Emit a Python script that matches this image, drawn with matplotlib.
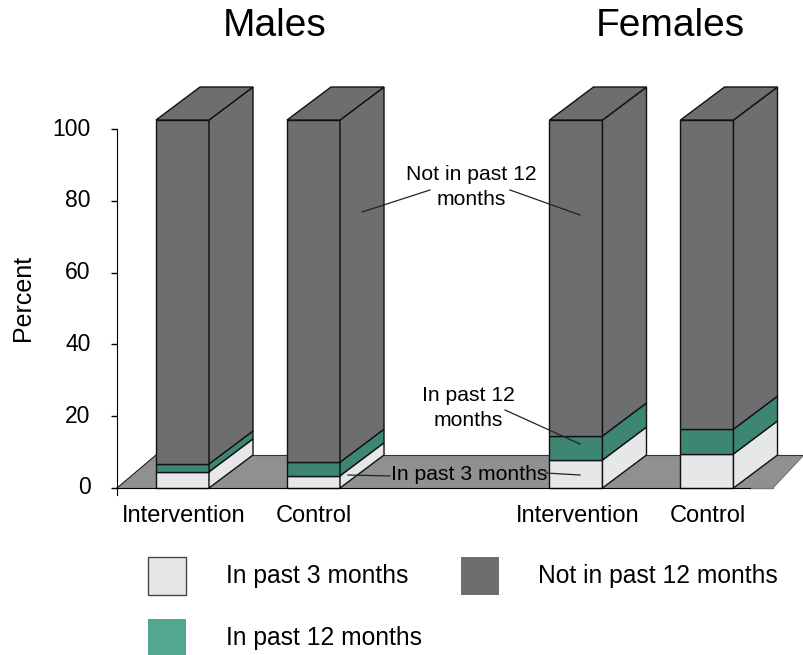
import matplotlib
matplotlib.use("Agg")
from matplotlib import pyplot as plt
from matplotlib.patches import Polygon, Rectangle

plt.rcParams["font.family"] = ["Liberation Sans", "DejaVu Sans"]

groups = ["Intervention", "Control", "Intervention", "Control"]
series = ["In past 3 months", "In past 12 months", "Not in past 12 months"]
past_3 = [4.5, 3.4, 7.8, 9.5]
past_12 = [2.2, 3.8, 6.7, 6.9]
not_past = [95.8, 95.3, 88.0, 86.1]
yticks = [0, 20, 40, 60, 80, 100]

front = {"In past 3 months": "#e6e7e8", "In past 12 months": "#3d8673", "Not in past 12 months": "#6d6e70"}
legend_col = {"In past 3 months": "#e6e7e8", "In past 12 months": "#52a790", "Not in past 12 months": "#6d6e70"}
floor_col = "#8f9091"

# x is in pixels, y in percent
px_pct = 3.59
base = 488
def py(p):
    return (base - p) / px_pct

fig = plt.figure(figsize=(8.04, 6.55), dpi=100)
ax = fig.add_axes([0, 0, 1, 1])
ax.set_xlim(0, 804)
ax.set_ylim(py(655), py(0))

bar_x = [182.5, 313.5, 576, 707]
label_x = [184, 313.5, 577.5, 707.5]
bar_w = 53
dx = 44
dy = 33 / px_pct

# floor
ax.add_patch(Polygon([(117, 0), (156, dy), (804, dy), (773, 0)], fc=floor_col, ec="none", zorder=0))
ax.plot([773, 804], [0, dy], color="#666666", lw=0.6, zorder=0.5)
ax.plot([156, 804], [dy, dy], color="#333333", lw=0.8, zorder=0.5)
ax.plot([117, 156], [0, dy], color="#222222", lw=0.8, zorder=0.5)
ax.plot([750, 773], [0, 0], color="#777777", lw=1, zorder=0.5)

# stacks
for i, x in enumerate(bar_x):
    bottom = 0
    for name, vals in zip(series, [past_3, past_12, not_past]):
        v = vals[i]
        ax.bar(x, v, bar_w, bottom=bottom, color=front[name], edgecolor="#111111", lw=1, zorder=2)
        r = x + bar_w / 2
        ax.add_patch(Polygon([(r, bottom), (r + dx, bottom + dy), (r + dx, bottom + v + dy), (r, bottom + v)],
                             fc=front[name], ec="#111111", lw=1, zorder=2))
        bottom += v
    l = x - bar_w / 2
    ax.add_patch(Polygon([(l, bottom), (l + dx, bottom + dy), (l + bar_w + dx, bottom + dy), (l + bar_w, bottom)],
                         fc=front["Not in past 12 months"], ec="#111111", lw=1, zorder=2))

# axes
for s in ["top", "right"]:
    ax.spines[s].set_visible(False)
ax.spines["left"].set_position(("data", 117))
ax.spines["left"].set_bounds(py(495), 100)
ax.spines["bottom"].set_position(("data", 0))
ax.spines["bottom"].set_bounds(117, 750)
ax.spines["left"].set_zorder(3)
ax.spines["bottom"].set_zorder(3)
ax.set_yticks(yticks)
ax.set_xticks(label_x)
ax.set_xticklabels(groups)
ax.tick_params(axis="y", direction="out", length=4, width=1, labelsize=16.5, pad=15)
ax.tick_params(axis="x", length=0, labelsize=17, pad=12)
for t in ax.get_yticklabels():
    t.set_verticalalignment("center")
ax.text(23, py(298), "Percent", rotation=90, fontsize=18, ha="center", va="center")

ax.text(275, py(26), "Males", fontsize=28, ha="center", va="center")
ax.text(670, py(26), "Females", fontsize=28, ha="center", va="center")

# callouts
ax.text(471, py(187), "Not in past 12\nmonths", fontsize=15.2, ha="center", va="center", linespacing=1.42, zorder=4)
ax.text(468, py(408), "In past 12\nmonths", fontsize=15.2, ha="center", va="center", linespacing=1.42, zorder=4)
ax.text(469, py(474), "In past 3 months", fontsize=15.2, ha="center", va="center", zorder=4)
leaders = [((362, 212), (430, 190)), ((510, 190), (580, 215)), ((505, 410), (580, 444)),
           ((348, 475), (390, 476)), ((546, 473), (580, 475))]
for a, b in leaders:
    ax.plot([a[0], b[0]], [py(a[1]), py(b[1])], color="#222222", lw=0.9, zorder=4)

# legend
legend_pos = [(148, 557, 226), (148, 619, 226), (461, 557, 538)]
for name, (x, y, tx) in zip(series, legend_pos):
    ax.add_patch(Rectangle((x, py(y + 38)), 38, 38 / px_pct, fc=legend_col[name],
                           ec="#444444" if name == series[0] else "none", lw=1, zorder=2))
    ax.text(tx, py(y + 19), name, fontsize=17.7, ha="left", va="center")

fig.savefig("out.png", dpi=100)
